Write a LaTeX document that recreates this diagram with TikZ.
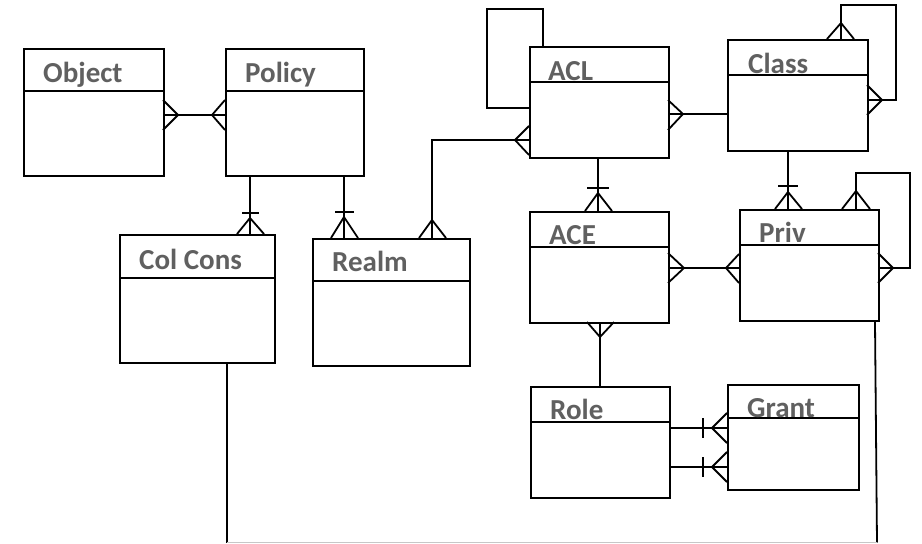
\documentclass[tikz,border=0pt]{standalone}
\usepackage{fontspec}
\setmainfont{Carlito}
\definecolor{labelgray}{RGB}{96,96,96}
\begin{document}
\begin{tikzpicture}[x=1pt,y=-1pt,
  entity/.style={draw=black, line width=2pt, rectangle, anchor=north west, inner sep=0pt, fill=none},
  hdr/.style={draw=black, line width=2pt},
  conn/.style={draw=black, line width=1.8pt},
  title/.style={anchor=base west, inner sep=0pt, text=labelgray, font=\fontsize{29}{29}\selectfont\bfseries},
  bottomline/.style={draw=black!22, line width=1.5pt}]
\useasboundingbox (0,0) rectangle (922,544);

% entities
\node[entity, minimum width=140pt, minimum height=127pt] (obj) at (23,48) {};
\node[entity, minimum width=138pt, minimum height=127pt] (pol) at (225,48) {};
\node[entity, minimum width=155pt, minimum height=128pt] (col) at (119,234) {};
\node[entity, minimum width=157pt, minimum height=127pt] (realm) at (312,238) {};
\node[entity, minimum width=139pt, minimum height=111pt] (acl) at (529,46) {};
\node[entity, minimum width=140pt, minimum height=111pt] (cls) at (727,39) {};
\node[entity, minimum width=139pt, minimum height=111pt] (ace) at (529,211) {};
\node[entity, minimum width=139pt, minimum height=111pt] (priv) at (739,209) {};
\node[entity, minimum width=139pt, minimum height=111pt] (role) at (530,386) {};
\node[entity, minimum width=131pt, minimum height=105pt] (grant) at (727,384) {};

% header lines
\draw[hdr] (obj.west |- 0,91) -- (obj.east |- 0,91);
\draw[hdr] (pol.west |- 0,91) -- (pol.east |- 0,91);
\draw[hdr] (col.west |- 0,278) -- (col.east |- 0,278);
\draw[hdr] (realm.west |- 0,281) -- (realm.east |- 0,281);
\draw[hdr] (acl.west |- 0,82) -- (acl.east |- 0,82);
\draw[hdr] (cls.west |- 0,75) -- (cls.east |- 0,75);
\draw[hdr] (ace.west |- 0,247) -- (ace.east |- 0,247);
\draw[hdr] (priv.west |- 0,245) -- (priv.east |- 0,245);
\draw[hdr] (role.west |- 0,422) -- (role.east |- 0,422);
\draw[hdr] (grant.west |- 0,418) -- (grant.east |- 0,418);

% titles
\node[title] (tobj) at (43,82) {Object};
\node[title] (tpol) at (245,82) {Policy};
\node[title] (tcol) at (139,269) {Col Cons};
\node[title] (trealm) at (332,271) {Realm};
\node[title] (tacl) at (548,80) {ACL};
\node[title] (tcls) at (748,73) {Class};
\node[title] (tace) at (549,244) {ACE};
\node[title] (tpriv) at (759,242) {Priv};
\node[title] (trole) at (550,419) {Role};
\node[title] (tgrant) at (747,417) {Grant};

% Object -- Policy
\draw[conn] (obj.east |- 0,115) -- (pol.west |- 0,115);
\draw[conn] (163,100) -- (178,115) -- (163,130);
\draw[conn] (225,100) -- (212,115) -- (225,130);

% Policy -- Col Cons
\draw[conn] (pol.south -| 250,0) -- (col.north -| 250,0);
\draw[conn] (242,213) -- (259,213);
\draw[conn] (237,234) -- (250,218) -- (264,234);

% Policy -- Realm
\draw[conn] (pol.south -| 344,0) -- (realm.north -| 344,0);
\draw[conn] (335,212) -- (354,212);
\draw[conn] (331,238) -- (344,217) -- (358,238);

% Realm -- ACL
\draw[conn] (realm.north -| 432,0) -- (432,140) -- (acl.west |- 0,140);
\draw[conn] (419,238) -- (432,220) -- (446,238);
\draw[conn] (529,126) -- (515,140) -- (529,155);

% ACL self loop
\draw[conn] (acl.north -| 543,0) -- (543,9) -- (487,9) -- (487,108) -- (acl.west |- 0,108);

% ACL -- Class
\draw[conn] (acl.east |- 0,114) -- (cls.west |- 0,114);
\draw[conn] (668,100) -- (683,114) -- (668,130);

% Class self loop
\draw[conn] (cls.north -| 841,0) -- (841,5) -- (896,5) -- (896,100) -- (cls.east |- 0,100);
\draw[conn] (827,39) -- (841,23) -- (854,39);
\draw[conn] (867,85) -- (882,100) -- (867,115);

% Class -- Priv
\draw[conn] (cls.south -| 788,0) -- (priv.north -| 788,0);
\draw[conn] (778,186) -- (798,186);
\draw[conn] (775,209) -- (788,192) -- (802,209);

% ACL -- ACE
\draw[conn] (acl.south -| 598,0) -- (ace.north -| 598,0);
\draw[conn] (587,188) -- (609,188);
\draw[conn] (585,211) -- (598,193) -- (612,211);

% Priv self loop
\draw[conn] (priv.north -| 856,0) -- (856,173) -- (910,173) -- (910,268) -- (priv.east |- 0,268);
\draw[conn] (842,209) -- (856,191) -- (870,209);
\draw[conn] (878,253) -- (893,268) -- (878,283);

% ACE -- Priv
\draw[conn] (ace.east |- 0,268) -- (priv.west |- 0,268);
\draw[conn] (668,253) -- (684,268) -- (668,283);
\draw[conn] (739,254) -- (726,268) -- (739,283);

% ACE -- Role
\draw[conn] (ace.south -| 600,0) -- (role.north -| 600,0);
\draw[conn] (587,322) -- (600,337) -- (614,322);

% Role -- Grant
\draw[conn] (role.east |- 0,428) -- (grant.west |- 0,428);
\draw[conn] (703,418) -- (703,438);
\draw[conn] (727,413) -- (712,428) -- (727,443);
\draw[conn] (role.east |- 0,467) -- (grant.west |- 0,467);
\draw[conn] (703,457) -- (703,477);
\draw[conn] (727,452) -- (712,467) -- (727,482);

% Col Cons -- Priv (bottom route)
\coordinate (bl) at (227,542.5);
\coordinate (br) at (877,542.5);
\draw[conn] (col.south -| 227,0) -- (bl);
\draw[conn] (priv.south -| 875,0) -- (br);
\draw[bottomline] (bl) -- (br);
\end{tikzpicture}
\end{document}
